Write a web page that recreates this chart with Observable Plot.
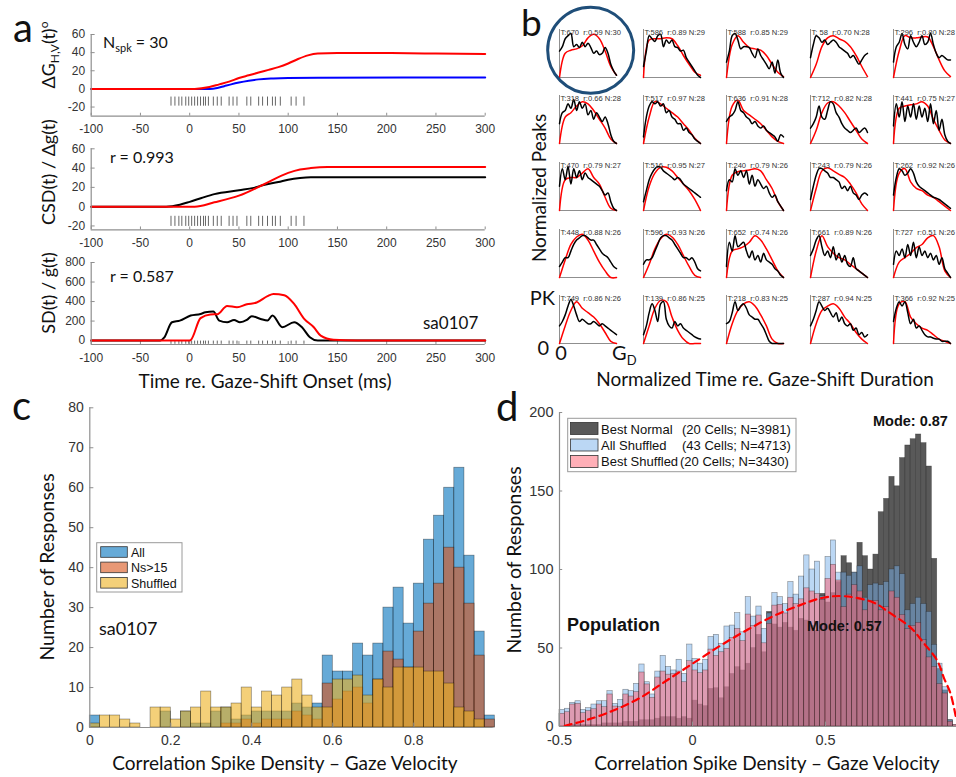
<!DOCTYPE html>
<html><head><meta charset="utf-8">
<script src="https://cdn.jsdelivr.net/npm/d3@7"></script>
<script src="https://cdn.jsdelivr.net/npm/@observablehq/plot@0.6"></script>
<style>
body{margin:0;overflow:hidden;background:#fff}
#root{position:relative;width:956px;height:777px;overflow:hidden;background:#fff}
</style></head><body><div id="root"></div>
<script>
// ---------------- Panel a data ----------------
const aXTicks = [-100, -50, 0, 50, 100, 150, 200, 250, 300];
const spikeTimes = [-19, -15, -11, -8, -4, -1, 2, 5, 8, 11, 14, 16, 19, 24, 28, 32, 40, 44, 48, 58, 62, 70, 74, 79, 84, 87, 92, 103, 108, 116];
// subplot 1: gaze displacement H (red) and V (blue)
const gH_t = [-100, 0, 5, 20, 30, 40, 50, 60, 70, 80, 90, 100, 110, 120, 130, 150, 200, 250, 300];
const gH_v = [0, 0, 0, 2, 5, 8, 12, 15, 18, 21, 24, 28, 33, 37, 39, 39.5, 39.5, 39, 38.5];
const gV_t = [-100, 20, 28, 35, 42, 50, 60, 70, 85, 100, 130, 300];
const gV_v = [0, 0, 1, 3, 5, 7, 9, 10.5, 11.5, 12, 12.3, 12.5];
// subplot 2: cumulative spike density (black) vs gaze displacement (red)
const csd_t = [-100, -24, -10, 0, 12, 25, 50, 65, 75, 90, 100, 112, 123, 140, 300];
const csd_v = [0, 0, 2, 5, 9, 13, 17, 19.5, 22.5, 25.5, 28, 29.8, 30.5, 30.5, 30.5];
const gd_t = [-100, 0, 5, 25, 50, 75, 100, 112, 123, 140, 160, 300];
const gd_v = [0, 0, 0, 4.5, 11.4, 23, 35, 38.5, 40, 41, 41, 41];
// subplot 3: spike density (black) vs gaze velocity (red)
const sd_t = [-100, -30, -26, -18, -10, 1, 11, 16, 24, 30, 38, 45, 51, 58, 63, 72, 79, 84, 94, 106, 114, 122, 130, 300];
const sd_v = [0, 0, 30, 188, 205, 257, 273, 290, 297, 205, 188, 212, 188, 212, 250, 222, 205, 257, 137, 188, 137, 34, 0, 0];
const gvel_t = [-100, -1, 1, 11, 21, 28, 38, 48, 58, 68, 79, 85, 96, 106, 116, 126, 133, 146, 170, 300];
const gvel_v = [0, 0, 5, 230, 268, 270, 355, 342, 372, 390, 455, 478, 465, 376, 226, 137, 51, 8, 0, 0];

// ---------------- Panel b data ----------------
const bLabels = [
  "T:670  r:0.59 N:30", "T:586  r:0.89 N:29", "T:588  r:0.85 N:29", "T: 58  r:0.70 N:28", "T:296  r:0.80 N:28",
  "T:318  r:0.66 N:28", "T:517  r:0.97 N:28", "T:636  r:0.91 N:28", "T:712  r:0.82 N:28", "T:441  r:0.75 N:27",
  "T:470  r:0.79 N:27", "T:516  r:0.95 N:27", "T:240  r:0.79 N:26", "T:243  r:0.79 N:26", "T:262  r:0.92 N:26",
  "T:448  r:0.88 N:26", "T:596  r:0.93 N:26", "T:652  r:0.74 N:26", "T:661  r:0.89 N:26", "T:727  r:0.51 N:26",
  "T:749  r:0.86 N:26", "T:139  r:0.86 N:25", "T:218  r:0.83 N:25", "T:287  r:0.94 N:25", "T:366  r:0.92 N:25"
];
const bBlackT = [0, 0.05, 0.1, 0.15, 0.2, 0.25, 0.3, 0.35, 0.4, 0.45, 0.5, 0.55, 0.6, 0.65, 0.7, 0.75, 0.8, 0.85, 0.9, 0.95, 1];
const bRedT = [0, 0.1, 0.2, 0.3, 0.4, 0.5, 0.6, 0.7, 0.8, 0.9, 1];
const bBlack = [
  [0.6,0.7,0.88,0.95,1.0,0.7,0.75,0.68,0.8,0.7,0.78,0.68,0.55,0.6,0.52,0.55,0.68,0.55,0.3,0.15,0.05],
  [0.25,0.6,0.95,0.88,0.82,0.95,0.98,0.7,0.85,0.78,0.85,0.7,0.68,0.6,0.62,0.45,0.35,0.25,0.15,0.05,0.0],
  [0.35,0.6,0.95,1.0,0.85,0.65,0.7,0.7,0.68,0.55,0.45,0.65,0.5,0.4,0.3,0.2,0.35,0.1,0.4,0.1,0.0],
  [0.45,0.75,0.95,0.9,0.8,0.85,0.75,0.8,0.85,0.8,0.7,0.65,0.6,0.55,0.45,0.5,0.4,0.3,0.4,0.5,0.55],
  [0.35,0.7,0.8,1.0,0.75,0.65,0.95,0.8,0.7,0.8,0.95,0.75,0.8,1.0,0.75,0.55,0.45,0.5,0.45,0.4,0.4],
  [0.45,0.7,0.75,0.9,0.8,1.0,0.75,0.95,0.8,0.9,0.65,0.75,0.55,0.7,0.6,0.5,0.6,0.45,0.2,0.05,0.0],
  [0.15,0.6,0.85,0.95,0.9,0.95,0.85,0.9,0.7,0.75,0.6,0.55,0.45,0.45,0.3,0.35,0.25,0.2,0.1,0.05,0.0],
  [0.5,0.6,0.65,0.75,0.95,0.75,0.7,0.6,0.55,0.45,0.5,0.4,0.35,0.4,0.3,0.25,0.2,0.15,0.05,0.2,0.15],
  [0.35,0.45,0.6,0.85,0.6,0.55,0.75,0.95,0.9,0.7,0.6,0.45,0.35,0.3,0.25,0.3,0.35,0.25,0.3,0.35,0.25],
  [0.4,0.9,0.6,0.95,0.5,0.85,0.6,0.9,0.55,0.85,0.6,0.8,0.5,0.9,0.45,0.75,0.3,0.55,0.2,0.05,0.0],
  [0.55,0.95,0.7,1.0,0.6,0.95,0.75,0.9,0.7,0.85,0.75,0.7,0.65,0.6,0.55,0.45,0.35,0.4,0.2,0.05,0.0],
  [0.2,0.45,0.7,0.85,0.95,1.0,0.98,0.9,0.85,0.8,0.75,0.7,0.75,0.7,0.6,0.55,0.5,0.45,0.4,0.35,0.3],
  [0.45,0.7,0.65,0.95,0.8,0.9,0.75,0.9,0.6,0.8,0.55,0.7,0.6,0.5,0.55,0.4,0.3,0.35,0.2,0.1,0.0],
  [0.25,0.55,0.8,0.95,0.95,0.9,0.85,0.75,0.75,0.7,0.65,0.5,0.55,0.45,0.55,0.4,0.35,0.25,0.35,0.4,0.35],
  [0.35,0.75,0.95,0.9,0.8,0.85,0.95,0.85,0.65,0.55,0.5,0.45,0.4,0.35,0.3,0.28,0.25,0.2,0.15,0.1,0.05],
  [0.25,0.35,0.45,0.45,0.6,0.75,0.85,0.9,0.95,0.95,0.9,0.85,0.85,0.75,0.65,0.55,0.5,0.45,0.35,0.25,0.2],
  [0.3,0.4,0.4,0.45,0.6,0.75,0.9,0.95,0.95,0.9,0.85,0.75,0.65,0.55,0.45,0.45,0.4,0.45,0.35,0.2,0.15],
  [0.25,0.8,0.6,0.95,0.7,0.75,0.8,0.6,0.45,0.6,0.4,0.5,0.35,0.55,0.4,0.35,0.3,0.2,0.15,0.05,0.0],
  [0.5,0.65,0.85,0.95,0.7,0.5,0.6,0.45,0.7,0.4,0.55,0.35,0.5,0.3,0.25,0.45,0.2,0.15,0.1,0.05,0.0],
  [0.3,0.6,0.5,0.65,0.45,0.75,0.5,0.8,0.45,0.7,0.5,0.6,0.45,0.55,0.4,0.5,0.3,0.45,0.2,0.1,0.0],
  [0.4,0.5,0.65,0.85,1.0,0.85,0.65,0.5,0.55,0.5,0.45,0.45,0.5,0.45,0.4,0.45,0.4,0.35,0.3,0.25,0.2],
  [0.2,0.4,0.7,0.9,0.75,0.5,0.9,0.95,0.55,0.4,0.35,0.5,0.4,0.45,0.35,0.3,0.25,0.2,0.15,0.12,0.1],
  [0.45,0.5,0.7,0.95,0.75,0.85,0.9,0.8,0.65,0.6,0.55,0.55,0.45,0.35,0.2,0.05,0.0,0.0,0.0,0.0,0.0],
  [0.4,0.55,0.75,0.95,0.85,0.75,0.8,0.7,0.6,0.7,0.5,0.6,0.45,0.4,0.45,0.3,0.35,0.2,0.25,0.15,0.2],
  [0.5,0.8,0.95,0.85,0.95,0.7,0.45,0.55,0.35,0.4,0.3,0.2,0.15,0.15,0.12,0.1,0.1,0.05,0.05,0.05,0.0]
];
const bRed = [
  [0,0.55,0.62,0.65,0.72,0.9,0.98,0.88,0.6,0.25,0.05],
  [0,0.85,0.88,0.88,0.9,0.88,0.72,0.5,0.3,0.12,0.05],
  [0,0.75,0.95,0.8,0.68,0.65,0.62,0.5,0.3,0.12,0.02],
  [0,0.3,0.7,0.9,0.95,0.88,0.82,0.7,0.5,0.25,0.02],
  [0,0.6,0.95,0.9,0.9,0.92,0.92,0.7,0.4,0.15,0.02],
  [0,0.6,0.7,0.85,0.95,0.9,0.75,0.55,0.35,0.1,0.0],
  [0,0.6,0.95,0.9,0.8,0.7,0.6,0.45,0.3,0.12,0.0],
  [0,0.85,0.98,0.75,0.65,0.55,0.45,0.3,0.15,0.05,0.0],
  [0,0.3,0.7,0.92,0.95,0.85,0.7,0.5,0.3,0.1,0.0],
  [0,0.8,0.85,0.88,0.9,0.95,0.85,0.55,0.3,0.08,0.0],
  [0,0.7,0.75,0.75,0.85,0.95,0.75,0.6,0.3,0.05,0.0],
  [0,0.55,0.85,0.98,0.98,0.9,0.75,0.6,0.45,0.25,0.0],
  [0,0.8,0.88,0.9,0.92,0.95,0.9,0.7,0.5,0.2,0.0],
  [0,0.5,0.9,0.97,0.9,0.82,0.75,0.6,0.4,0.15,0.0],
  [0,0.85,0.95,0.65,0.5,0.45,0.35,0.3,0.2,0.1,0.0],
  [0,0.4,0.75,0.92,0.98,0.85,0.6,0.35,0.15,0.0,0.0],
  [0,0.3,0.65,0.88,0.98,0.92,0.75,0.5,0.25,0.05,0.0],
  [0,0.6,0.65,0.7,0.8,0.95,0.85,0.65,0.4,0.15,0.0],
  [0,0.6,0.95,0.7,0.55,0.45,0.4,0.3,0.2,0.1,0.0],
  [0,0.35,0.45,0.55,0.68,0.75,0.9,0.95,0.7,0.15,0.0],
  [0,0.4,0.75,0.95,0.8,0.7,0.6,0.45,0.25,0.05,0.0],
  [0,0.4,0.8,0.98,0.95,0.6,0.3,0.1,0.0,0.0,0.0],
  [0,0.45,0.75,0.9,0.95,0.85,0.65,0.4,0.1,0.0,0.0],
  [0,0.45,0.75,0.85,0.9,0.8,0.6,0.45,0.25,0.1,0.0],
  [0,0.9,0.95,0.6,0.45,0.35,0.3,0.2,0.1,0.05,0.0]
];

// ---------------- Panel c data (bins of 0.025 from 0) ----------------
const cBinStart = 0, cBinWidth = 0.025;
const cAll = [3,0,0,0,0,0,0,4,0,4,1,1,4,5,2,3,4,4,4,4,6,5,6,18,14,14,21,18,21,30,35,26,36,47,53,60,65,43,24,3];
const cNs  = [0,0,0,0,0,0,0,0,0,0,0,0,0,1,1,2,1,2,2,2,4,3,2,11,7,9,10,6,12,19,17,15,24,31,36,45,40,31,18,2];
const cSh  = [1,3,3,2,1,0,5,5,2,4,5,9,5,5,6,10,5,9,8,10,12,8,5,5,12,12,13,8,12,10,15,15,15,14,14,11,5,4,2,0];
const cXTicks = [0, 0.2, 0.4, 0.6, 0.8];
const cYTicks = [0, 10, 20, 30, 40, 50, 60, 70, 80];
const cSeries = ["All", "Ns>15", "Shuffled"];

// ---------------- Panel d data (bins of 0.02 from -0.5) ----------------
const dBinStart = -0.5, dBinWidth = 0.02;
const dBestNormal = [
  0,0,1,1,1,1,1, 1,2,2,2,2,3,3,3,4,4,4,5,6, 6, 6,5,6,5,16.5, 14,
  13,24,24.4,18,25,33.5,37.8,35.7,40, 50, 58.4,47.3,73,65,63,66,63,61,68.6,67.5, 64,
  61,84.5,79,85,92, 108.5, 104, 98,117,108.5,100,109.5,136.5,145,159,153,171,179, 183,
  186,180.5,165.6,106.8,36.7,23,4, 0];
const dAllShuffled = [
  10.6,11.3,15.1,16.1,10.6,11.7,14, 16.1,16.1,22.5,14.4,17.0,23.4,22.5,27.2,39.5,28.2,20.4,35.0,45.0, 38,
  35.7,42.5,33.5,52.2,43, 40,
  42.5,57,58.4,52.7,63.7,64.3,72.2,60,82.4, 70, 76.4,62.2,72,85,82.4,78,92,84,95.5,109, 100,
  105,83,108,118.5,98, 98, 96, 98,102,82,90,91,90,92,100,102,97,74, 78,
  82,78,73,52,40,25,4, 1];
const dBestShuffled = [
  8.1,9.1,14.0,14.4,8.5,9.8,11, 14.0,12.3,20.4,12.7,12.3,20.4,19.1,21.9,34.4,26.8,18.3,31.2,35.0, 33,
  33.5,35.0,28.2,41.6,35.7, 34,
  35.7,49,45,47.3,49.5,56.3,62.2,54.4,71.3, 64, 70.7,53,65.4,77,77.5,72,82,78,81,88, 86,
  84.5,80.7,94,103,93, 76, 84, 90,86,74,80,80,74,76,86,82,71,62, 64,
  66,55,44,38,27,21,3, 1];
const dFitX = [-0.48, -0.4, -0.3, -0.2, -0.1, 0, 0.1, 0.2, 0.3, 0.4, 0.49, 0.57, 0.68, 0.745, 0.82, 0.87, 0.92, 0.945, 0.97, 0.99];
const dFitY = [0.5, 4, 10, 18, 29, 40, 51, 61, 70, 77, 82, 83, 79, 72, 63, 53, 42, 31, 21, 6];
const dXTicks = [-0.5, 0, 0.5];
const dXTickMarks = [-0.5, 0, 0.5, 1];
const dYTicks = [0, 50, 100, 150, 200];
const dSeries = ["Best Normal", "All Shuffled", "Best Shuffled"];
const dSeriesInfo = ["(20 Cells; N=3981)", "(43 Cells; N=4713)", "(20 Cells; N=3430)"];

// ---------------- helpers ----------------
const root = document.getElementById("root");
function place(el, left, top) {
  el.style.position = "absolute"; el.style.left = left + "px"; el.style.top = top + "px";
  root.appendChild(el);
}
const fmt = d => String(d);
const AX = "#8f8f8f";
const tickFont = "'Liberation Sans', Arial, sans-serif";
function st(size) {
  return {background: "transparent", overflow: "visible", fontFamily: tickFont, fontSize: size + "px", color: "#333"};
}
const pts = (ts, vs) => ts.map((t, i) => ({t, v: vs[i]}));

// ---------------- Panel a ----------------
function aPanel(top, height, mt, mb, ydom, yticks, rasterY, marks) {
  const xmin = -100;
  const yr = ydom[1] - ydom[0];
  const svg = Plot.plot({
    width: 500, height, marginLeft: 90.7, marginRight: 15.3, marginTop: mt, marginBottom: mb,
    style: st(12),
    x: {domain: [-100, 300], ticks: aXTicks, tickSize: 0, tickPadding: 8.5, tickFormat: fmt, label: null},
    y: {domain: ydom, ticks: yticks, tickSize: 0, tickPadding: 6, tickFormat: fmt, label: null},
    marks: [
      Plot.ruleX(aXTicks, {x: d => d, y1: ydom[0], y2: ydom[0] + yr * 0.035, stroke: AX}),
      Plot.ruleY(yticks, {y: d => d, x1: xmin, x2: xmin + 4, stroke: AX}),
      Plot.ruleX(spikeTimes, {x: d => d, y1: rasterY[0], y2: rasterY[1], stroke: "#666", strokeWidth: 1}),
      ...marks,
      Plot.ruleY([ydom[0]], {stroke: AX, strokeWidth: 1.2}),
      Plot.ruleX([xmin], {y1: ydom[0], y2: ydom[1], stroke: AX, strokeWidth: 1.2})
    ]
  });
  place(svg, 0, top);
}
aPanel(0, 145, 34, 29.4, [-30, 60], [-20, 0, 20, 40, 60], [-9, -19], [
  Plot.line(pts(gV_t, gV_v), {x: "t", y: "v", stroke: "#0000ff", strokeWidth: 2, curve: "monotone-x"}),
  Plot.line(pts(gH_t, gH_v), {x: "t", y: "v", stroke: "#ff0000", strokeWidth: 2, curve: "monotone-x"})
]);
aPanel(130, 130, 18.3, 30.7, [-24, 60], [-20, 0, 20, 40, 60], [-10, -20.5], [
  Plot.line(pts(csd_t, csd_v), {x: "t", y: "v", stroke: "#000", strokeWidth: 2, curve: "monotone-x"}),
  Plot.line(pts(gd_t, gd_v), {x: "t", y: "v", stroke: "#ff0000", strokeWidth: 2, curve: "monotone-x"})
]);
aPanel(250, 125, 12, 31, [-40, 800], [0, 200, 400, 600, 800], [-5, -38], [
  Plot.line(pts(sd_t, sd_v), {x: "t", y: "v", stroke: "#000", strokeWidth: 2, curve: "monotone-x"}),
  Plot.line(pts(gvel_t, gvel_v), {x: "t", y: "v", stroke: "#ff0000", strokeWidth: 2, curve: "monotone-x"})
]);

// ---------------- Panel b ----------------
const bLeft = [559.3, 642.7, 726, 810, 893.3];
const bBottom = [77.3, 143.3, 210, 276.7, 343.3];
bLabels.forEach((lab, k) => {
  const row = Math.floor(k / 5), col = k % 5;
  const marks = [
    Plot.ruleX([0], {stroke: AX, strokeWidth: 1}),
    Plot.ruleY([0], {stroke: AX, strokeWidth: 1}),
    Plot.line(pts(bRedT, bRed[k]), {x: "t", y: "v", stroke: "#ff0000", strokeWidth: 1.5, curve: "catmull-rom"}),
    Plot.line(pts(bBlackT, bBlack[k]), {x: "t", y: "v", stroke: "#000", strokeWidth: 1.5, curve: "catmull-rom"}),
    Plot.text([lab], {text: d => d, frameAnchor: "top-left", dx: 1, dy: 3, lineAnchor: "middle", textAnchor: "start", fontSize: 7.6, fill: "#333"})
  ];
  if (k === 0) marks.push(Plot.dot([{x: 0.547, y: 0.62}], {x: "x", y: "y", r: 43, stroke: "#1f4e79", strokeWidth: 3, fill: "none"}));
  const svg = Plot.plot({
    width: 75, height: 62, marginLeft: 2, marginRight: 16, marginTop: 12, marginBottom: 2,
    style: st(7.6),
    x: {domain: [0, 1], axis: null}, y: {domain: [0, 1.09], axis: null},
    marks
  });
  place(svg, bLeft[col] - 2, bBottom[row] - 60);
});

// ---------------- Panel c ----------------
const cData = cAll.map((a, i) => ({x1: cBinStart + i * cBinWidth, x2: cBinStart + (i + 1) * cBinWidth, all: a, ns: cNs[i], sh: cSh[i]}));
const cColors = ["#0072BD", "#D95319", "#EDB120"];
const cKeys = ["all", "ns", "sh"];
{
  const svg = Plot.plot({
    width: 510, height: 382, marginLeft: 89.3, marginRight: 15.7, marginTop: 12.3, marginBottom: 50,
    style: st(14),
    x: {domain: [0, 1], ticks: cXTicks, tickSize: 0, tickPadding: 8, tickFormat: fmt, label: null},
    y: {domain: [0, 80], ticks: cYTicks, tickSize: 0, tickPadding: 6, tickFormat: fmt, label: null},
    marks: [
      ...cKeys.map((key, j) => Plot.rect(cData.filter(d => d[key] > 0), {x1: "x1", x2: "x2", y1: 0, y2: key, fill: cColors[j], fillOpacity: 0.6, stroke: "#000", strokeOpacity: 0.45, strokeWidth: 0.7})),
      Plot.ruleX(cXTicks, {x: d => d, y1: 0, y2: 1.1, stroke: AX}),
      Plot.ruleY(cYTicks, {y: d => d, x1: 0, x2: 0.01, stroke: AX}),
      Plot.ruleY([0], {x1: 0, x2: 0.996, stroke: AX, strokeWidth: 1.2}),
      Plot.ruleX([0], {y1: 0, y2: 80, stroke: AX, strokeWidth: 1.2})
    ]
  });
  place(svg, 0, 395);
}

// ---------------- Panel d ----------------
const dData = dBestNormal.map((g, i) => ({x1: dBinStart + i * dBinWidth, x2: dBinStart + (i + 1) * dBinWidth, g, b: dAllShuffled[i], p: dBestShuffled[i]}));
const dKeys = ["g", "b", "p"];
const dColors = ["#303030", "#78B0EA", "#FF6070"];
const dOpac = [0.8, 0.5, 0.5];
{
  const svg = Plot.plot({
    width: 480, height: 382, marginLeft: 79, marginRight: 2, marginTop: 17, marginBottom: 51,
    style: st(14.5),
    x: {domain: [-0.5, 1], ticks: dXTicks, tickSize: 0, tickPadding: 8.7, tickFormat: fmt, label: null},
    y: {domain: [0, 200], ticks: dYTicks, tickSize: 0, tickPadding: 6, tickFormat: fmt, label: null},
    marks: [
      ...dKeys.map((key, j) => Plot.rect(dData.filter(d => d[key] > 0), {x1: "x1", x2: "x2", y1: 0, y2: key, fill: dColors[j], fillOpacity: dOpac[j], stroke: "#222", strokeOpacity: 0.5, strokeWidth: 0.6})),
      Plot.line(dFitX.map((x, i) => ({x, y: dFitY[i]})), {x: "x", y: "y", stroke: "#ff0000", strokeWidth: 2.2, strokeDasharray: "7,5", curve: "catmull-rom"}),
      Plot.ruleX(dXTickMarks, {x: d => d, y1: 0, y2: 2.8, stroke: AX}),
      Plot.ruleY(dYTicks, {y: d => d, x1: -0.5, x2: -0.488, stroke: AX}),
      Plot.ruleY([0], {x1: -0.5, x2: 1, stroke: AX, strokeWidth: 1.2}),
      Plot.ruleX([-0.5], {y1: 0, y2: 200, stroke: AX, strokeWidth: 1.2})
    ]
  });
  place(svg, 480, 395);
}

// ---------------- Text overlay ----------------
const L = "font-family:Lato, 'Open Sans', sans-serif;fill:#111";
const H = "font-family:'Liberation Sans', Arial, sans-serif;fill:#111";
const ov = `
<g style="${L}">
  <text x="13" y="42" font-size="40">a</text>
  <text x="521" y="36" font-size="37">b</text>
  <text x="12" y="420" font-size="40">c</text>
  <text x="496" y="421" font-size="40">d</text>

  <text transform="translate(55,55) rotate(-90)" text-anchor="middle" font-size="18">ΔG<tspan font-size="12" dy="4">H,V</tspan><tspan dy="-4">(t)</tspan><tspan font-size="12" dy="-7">o</tspan></text>
  <text transform="translate(55,172) rotate(-90)" text-anchor="middle" font-size="18">CSD(t) / Δg(t)</text>
  <text transform="translate(55,293) rotate(-90)" text-anchor="middle" font-size="18">SD(t) / ġ(t)</text>
  <text x="103" y="48" font-size="16">N<tspan font-size="11" dy="4">spk</tspan><tspan dy="-4"> = 30</tspan></text>
  <text x="110" y="163" font-size="16">r = 0.993</text>
  <text x="110" y="281.5" font-size="16">r = 0.587</text>
  <text x="423" y="329" font-size="17">sa0107</text>
  <text x="265" y="388" text-anchor="middle" font-size="19">Time re. Gaze-Shift Onset (ms)</text>

  <text transform="translate(546,188) rotate(-90)" text-anchor="middle" font-size="19">Normalized Peaks</text>
  <text x="555" y="305" text-anchor="end" font-size="20">PK</text>
  <text x="549" y="355" text-anchor="end" font-size="20">0</text>
  <text x="561" y="360" text-anchor="middle" font-size="20">0</text>
  <text x="612" y="360" font-size="20">G<tspan font-size="13" dy="5">D</tspan></text>
  <text x="765" y="386" text-anchor="middle" font-size="19">Normalized Time re. Gaze-Shift Duration</text>

  <text transform="translate(54,567) rotate(-90)" text-anchor="middle" font-size="19.5">Number of Responses</text>
  <text x="285" y="770" text-anchor="middle" font-size="19">Correlation Spike Density – Gaze Velocity</text>
  <text x="99" y="635" font-size="18">sa0107</text>

  <text transform="translate(521,560) rotate(-90)" text-anchor="middle" font-size="19.5">Number of Responses</text>
  <text x="767" y="770" text-anchor="middle" font-size="19">Correlation Spike Density – Gaze Velocity</text>
</g>
<g style="${H}">
  <rect x="96.7" y="542.7" width="85.3" height="49.3" fill="#fff" stroke="#9a9a9a" stroke-width="1"/>
  ${cSeries.map((s, j) => `<rect x="100.7" y="${546.7 + j * 15.4}" width="26.6" height="10.6" fill="${cColors[j]}" fill-opacity="0.6" stroke="#333" stroke-width="0.8"/>
  <text x="131" y="${557 + j * 15.3}" font-size="12.5">${s.replace('>', '&gt;')}</text>`).join("")}

  <rect x="567.7" y="418.3" width="228.3" height="53.4" fill="#fff" stroke="#9a9a9a" stroke-width="1"/>
  ${dSeries.map((s, j) => `<rect x="570.5" y="${422.5 + j * 16.5}" width="27.5" height="12" fill="${dColors[j]}" fill-opacity="${dOpac[j]}" stroke="#333" stroke-width="0.8"/>
  <text x="601" y="${434 + j * 16}" font-size="13">${s}</text>
  <text x="${j === 2 ? 680 : 682}" y="${434 + j * 16}" font-size="13">${dSeriesInfo[j]}</text>`).join("")}

  <text x="873" y="426" font-size="14.5" font-weight="bold">Mode: 0.87</text>
  <text x="807" y="631" font-size="14.5" font-weight="bold">Mode: 0.57</text>
  <text x="567" y="631" font-size="18" font-weight="bold">Population</text>
</g>`;
const ovSvg = document.createElementNS("http://www.w3.org/2000/svg", "svg");
ovSvg.setAttribute("width", 956); ovSvg.setAttribute("height", 777);
ovSvg.style.pointerEvents = "none";
ovSvg.innerHTML = ov;
place(ovSvg, 0, 0);
</script></body></html>
